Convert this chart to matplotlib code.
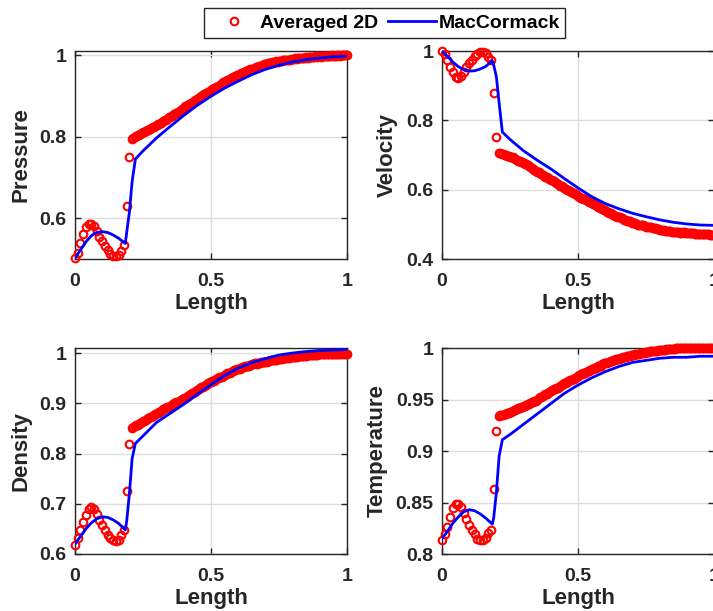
import numpy as np
import matplotlib
matplotlib.use("Agg")
import matplotlib.pyplot as plt
from matplotlib.ticker import FuncFormatter

plt.rcParams['font.family'] = ['Liberation Sans', 'DejaVu Sans']
plt.rcParams['font.weight'] = 'bold'

# 2D averaged solution: 0.01 spacing up to the shock, 0.005 after it
x_avg = np.concatenate([np.linspace(0.0, 0.2, 21), np.linspace(0.21, 1.0, 159)])

p_avg = [0.503, 0.515, 0.540, 0.562, 0.578, 0.585, 0.586, 0.580, 0.568, 0.555,
         0.543, 0.532, 0.522, 0.513, 0.508, 0.507, 0.510, 0.520, 0.535, 0.630,
         0.751,
         0.795, 0.797, 0.799, 0.802, 0.803, 0.804, 0.806, 0.809, 0.811, 0.811,
         0.813, 0.816, 0.817, 0.818, 0.821, 0.823, 0.824, 0.825, 0.828, 0.830,
         0.831, 0.834, 0.836, 0.838, 0.841, 0.842, 0.844, 0.847, 0.848, 0.850,
         0.853, 0.856, 0.857, 0.858, 0.860, 0.864, 0.866, 0.867, 0.870, 0.874,
         0.876, 0.877, 0.879, 0.882, 0.883, 0.886, 0.889, 0.890, 0.893, 0.894,
         0.896, 0.900, 0.902, 0.904, 0.907, 0.908, 0.910, 0.913, 0.914, 0.916,
         0.919, 0.920, 0.922, 0.924, 0.925, 0.928, 0.930, 0.933, 0.935, 0.936,
         0.938, 0.940, 0.941, 0.944, 0.946, 0.947, 0.949, 0.951, 0.952, 0.954,
         0.956, 0.956, 0.958, 0.959, 0.960, 0.963, 0.964, 0.965, 0.967, 0.967,
         0.968, 0.970, 0.971, 0.973, 0.974, 0.974, 0.975, 0.977, 0.977, 0.979,
         0.980, 0.980, 0.981, 0.982, 0.982, 0.984, 0.985, 0.984, 0.985, 0.986,
         0.986, 0.988, 0.988, 0.987, 0.988, 0.989, 0.989, 0.990, 0.990, 0.991,
         0.992, 0.991, 0.992, 0.993, 0.993, 0.992, 0.993, 0.994, 0.995, 0.994,
         0.995, 0.996, 0.995, 0.996, 0.996, 0.997, 0.996, 0.997, 0.997, 0.996,
         0.997, 0.998, 0.997, 0.998, 0.998, 0.997, 0.998, 0.999, 0.998, 0.998,
         0.998, 0.999, 0.999, 0.998, 0.999, 0.999, 0.999, 1.000, 0.999]

u_avg = [1.000, 0.990, 0.975, 0.955, 0.938, 0.925, 0.922, 0.928, 0.940, 0.953,
         0.964, 0.975, 0.985, 0.992, 0.997, 0.998, 0.993, 0.983, 0.975, 0.878,
         0.751,
         0.707, 0.705, 0.703, 0.702, 0.701, 0.699, 0.697, 0.696, 0.695, 0.694,
         0.693, 0.690, 0.688, 0.686, 0.684, 0.683, 0.681, 0.679, 0.677, 0.675,
         0.673, 0.670, 0.667, 0.665, 0.663, 0.659, 0.656, 0.654, 0.652, 0.651,
         0.649, 0.646, 0.643, 0.640, 0.637, 0.636, 0.634, 0.631, 0.628, 0.627,
         0.625, 0.622, 0.619, 0.616, 0.613, 0.612, 0.610, 0.608, 0.606, 0.603,
         0.600, 0.599, 0.597, 0.594, 0.591, 0.589, 0.587, 0.585, 0.583, 0.580,
         0.577, 0.576, 0.574, 0.572, 0.570, 0.567, 0.564, 0.563, 0.561, 0.560,
         0.558, 0.555, 0.552, 0.549, 0.547, 0.546, 0.545, 0.542, 0.540, 0.537,
         0.535, 0.534, 0.533, 0.530, 0.528, 0.525, 0.523, 0.522, 0.521, 0.520,
         0.519, 0.516, 0.513, 0.512, 0.511, 0.510, 0.509, 0.507, 0.505, 0.504,
         0.503, 0.501, 0.499, 0.499, 0.498, 0.498, 0.497, 0.495, 0.493, 0.493,
         0.492, 0.492, 0.491, 0.489, 0.488, 0.488, 0.487, 0.486, 0.485, 0.485,
         0.485, 0.483, 0.482, 0.482, 0.481, 0.481, 0.481, 0.479, 0.478, 0.478,
         0.478, 0.477, 0.477, 0.476, 0.476, 0.477, 0.477, 0.476, 0.475, 0.474,
         0.474, 0.475, 0.475, 0.474, 0.473, 0.473, 0.473, 0.472, 0.472, 0.472,
         0.472, 0.471, 0.471, 0.471, 0.471, 0.470, 0.470, 0.470, 0.470]

rho_avg = [0.618, 0.632, 0.647, 0.663, 0.678, 0.689, 0.694, 0.690, 0.680, 0.668,
           0.657, 0.647, 0.638, 0.632, 0.627, 0.625, 0.628, 0.637, 0.648, 0.725,
           0.818,
           0.851, 0.853, 0.855, 0.856, 0.857, 0.859, 0.861, 0.863, 0.864, 0.865,
           0.866, 0.869, 0.871, 0.872, 0.873, 0.875, 0.877, 0.878, 0.880, 0.881,
           0.882, 0.884, 0.886, 0.888, 0.890, 0.891, 0.892, 0.893, 0.894, 0.896,
           0.898, 0.900, 0.902, 0.902, 0.903, 0.905, 0.907, 0.909, 0.910, 0.911,
           0.912, 0.915, 0.917, 0.919, 0.921, 0.921, 0.922, 0.924, 0.926, 0.929,
           0.931, 0.932, 0.933, 0.934, 0.936, 0.939, 0.941, 0.942, 0.943, 0.944,
           0.945, 0.947, 0.949, 0.951, 0.953, 0.953, 0.953, 0.955, 0.957, 0.959,
           0.960, 0.960, 0.961, 0.963, 0.964, 0.966, 0.967, 0.968, 0.969, 0.969,
           0.970, 0.972, 0.973, 0.974, 0.975, 0.975, 0.975, 0.977, 0.978, 0.979,
           0.980, 0.980, 0.979, 0.980, 0.981, 0.982, 0.983, 0.983, 0.983, 0.983,
           0.984, 0.985, 0.986, 0.986, 0.986, 0.987, 0.987, 0.988, 0.988, 0.988,
           0.989, 0.990, 0.990, 0.990, 0.990, 0.991, 0.992, 0.993, 0.993, 0.992,
           0.992, 0.993, 0.994, 0.994, 0.994, 0.994, 0.995, 0.995, 0.995, 0.996,
           0.996, 0.996, 0.996, 0.997, 0.997, 0.997, 0.997, 0.998, 0.998, 0.998,
           0.998, 0.998, 0.998, 0.998, 0.998, 0.999, 0.999, 0.999, 0.999, 0.999,
           0.999, 0.999, 0.999, 0.999, 0.999, 1.000, 0.999, 0.999, 0.999]

t_avg = [0.814, 0.819, 0.826, 0.836, 0.845, 0.849, 0.849, 0.846, 0.840, 0.834,
         0.828, 0.823, 0.819, 0.815, 0.814, 0.814, 0.816, 0.820, 0.823, 0.863,
         0.919,
         0.934, 0.935, 0.935, 0.935, 0.936, 0.936, 0.937, 0.937, 0.938, 0.938,
         0.939, 0.940, 0.940, 0.941, 0.942, 0.942, 0.943, 0.943, 0.944, 0.944,
         0.945, 0.946, 0.946, 0.947, 0.948, 0.948, 0.949, 0.949, 0.950, 0.951,
         0.952, 0.952, 0.953, 0.954, 0.955, 0.955, 0.956, 0.957, 0.958, 0.959,
         0.960, 0.960, 0.961, 0.961, 0.962, 0.963, 0.964, 0.965, 0.966, 0.966,
         0.967, 0.968, 0.969, 0.969, 0.970, 0.970, 0.971, 0.972, 0.973, 0.974,
         0.975, 0.975, 0.976, 0.976, 0.977, 0.978, 0.978, 0.979, 0.980, 0.980,
         0.981, 0.981, 0.982, 0.983, 0.983, 0.983, 0.984, 0.985, 0.985, 0.985,
         0.986, 0.986, 0.987, 0.987, 0.988, 0.988, 0.989, 0.989, 0.989, 0.990,
         0.990, 0.991, 0.991, 0.991, 0.992, 0.992, 0.992, 0.993, 0.993, 0.993,
         0.994, 0.994, 0.994, 0.994, 0.995, 0.995, 0.995, 0.995, 0.996, 0.996,
         0.996, 0.997, 0.997, 0.997, 0.997, 0.997, 0.997, 0.998, 0.998, 0.998,
         0.998, 0.998, 0.998, 0.999, 0.999, 0.999, 0.999, 0.999, 0.999, 0.999,
         1.000, 1.000, 1.000, 1.000, 1.000, 1.000, 1.000, 1.000, 1.000, 1.000,
         1.000, 1.000, 1.000, 1.000, 1.000, 1.000, 1.000, 1.000, 1.000, 1.000,
         1.000, 1.000, 1.000, 1.000, 1.000, 1.000, 1.000, 1.000, 1.000]

# quasi-1D MacCormack solution
x_mc = [0.0, 0.02, 0.04, 0.06, 0.08, 0.10, 0.12, 0.14, 0.16, 0.185,
        0.19, 0.20, 0.21, 0.222, 0.25, 0.30, 0.35, 0.40, 0.45, 0.50,
        0.55, 0.60, 0.65, 0.70, 0.75, 0.80, 0.85, 0.90, 0.95, 1.0]

p_mc = [0.502, 0.522, 0.542, 0.557, 0.565, 0.567, 0.565, 0.559, 0.551, 0.538,
        0.565, 0.615, 0.690, 0.745, 0.765, 0.797, 0.825, 0.852, 0.877, 0.899,
        0.919, 0.936, 0.952, 0.965, 0.975, 0.983, 0.989, 0.993, 0.996, 0.997]

u_mc = [1.000, 0.985, 0.968, 0.955, 0.946, 0.942, 0.943, 0.948, 0.955, 0.972,
        0.960, 0.925, 0.850, 0.766, 0.745, 0.712, 0.685, 0.660, 0.632, 0.605,
        0.580, 0.560, 0.545, 0.532, 0.522, 0.513, 0.506, 0.501, 0.498, 0.497]

rho_mc = [0.620, 0.635, 0.650, 0.662, 0.670, 0.674, 0.673, 0.668, 0.661, 0.648,
          0.665, 0.720, 0.790, 0.820, 0.835, 0.862, 0.880, 0.898, 0.918, 0.937,
          0.955, 0.970, 0.981, 0.989, 0.996, 1.000, 1.003, 1.005, 1.006, 1.007]

t_mc = [0.815, 0.822, 0.830, 0.836, 0.841, 0.843, 0.842, 0.839, 0.835, 0.829,
        0.835, 0.860, 0.895, 0.911, 0.916, 0.926, 0.936, 0.946, 0.956, 0.964,
        0.971, 0.977, 0.982, 0.986, 0.988, 0.990, 0.991, 0.991, 0.992, 0.992]

panels = [
    ("Pressure", p_avg, p_mc, (0.5, 1.01), [0.6, 0.8, 1.0]),
    ("Velocity", u_avg, u_mc, (0.4, 1.0), [0.4, 0.6, 0.8, 1.0]),
    ("Density", rho_avg, rho_mc, (0.6, 1.01), [0.6, 0.7, 0.8, 0.9, 1.0]),
    ("Temperature", t_avg, t_mc, (0.8, 1.0), [0.8, 0.85, 0.9, 0.95, 1.0]),
]

W, H = 713, 611
fig = plt.figure(figsize=(W / 100, H / 100), dpi=100)

# axes boxes in pixels: left, top, width, height
boxes = [(75, 51, 272, 208), (442, 51, 272, 208),
         (75, 348, 272, 206), (442, 348, 272, 206)]

fmt = FuncFormatter(lambda v, pos: "%g" % round(v, 3))
spine_c = "#262626"

for (name, avg, mc, ylim, yt), (l, t, w, h) in zip(panels, boxes):
    ax = fig.add_axes([l / W, 1 - (t + h) / H, w / W, h / H])
    ax.plot(x_avg, avg, 'o', mfc='none', mec='red', ms=5.5, mew=1.5,
            clip_on=False, label="Averaged 2D", zorder=3)
    ax.plot(x_mc, mc, '-', color='blue', lw=2.0, label="MacCormack", zorder=4)
    ax.set_xlim(0, 1)
    ax.set_ylim(*ylim)
    ax.set_xticks([0, 0.5, 1])
    ax.set_yticks(yt)
    ax.xaxis.set_major_formatter(fmt)
    ax.yaxis.set_major_formatter(fmt)
    ax.grid(True, color='#dedede', lw=1.0)
    ax.set_axisbelow(True)
    ax.tick_params(direction='in', length=4, width=1, top=True, right=True,
                   labelsize=14, colors=spine_c, pad=6)
    ax.tick_params(axis='x', pad=10)
    for lab in ax.get_xticklabels() + ax.get_yticklabels():
        lab.set_fontweight('bold')
    for s in ax.spines.values():
        s.set_color(spine_c)
        s.set_linewidth(1.0)
    ax.set_xlabel("Length", fontsize=16, fontweight='bold', color=spine_c, labelpad=2)
    ax.set_ylabel(name, fontsize=16, fontweight='bold', color=spine_c, labelpad=6)

handles, labels = ax.get_legend_handles_labels()
leg = fig.legend(handles, labels, loc='center', ncol=2,
                 bbox_to_anchor=(384.5 / W, 1 - 23 / H), fontsize=14,
                 frameon=True, fancybox=False, edgecolor=spine_c, framealpha=1,
                 handlelength=2.5, handletextpad=0.1, columnspacing=0.5,
                 borderpad=0.3, borderaxespad=0)
leg.get_frame().set_linewidth(1.0)
for txt in leg.get_texts():
    txt.set_fontweight('bold')

fig.savefig("out.png", dpi=100)
